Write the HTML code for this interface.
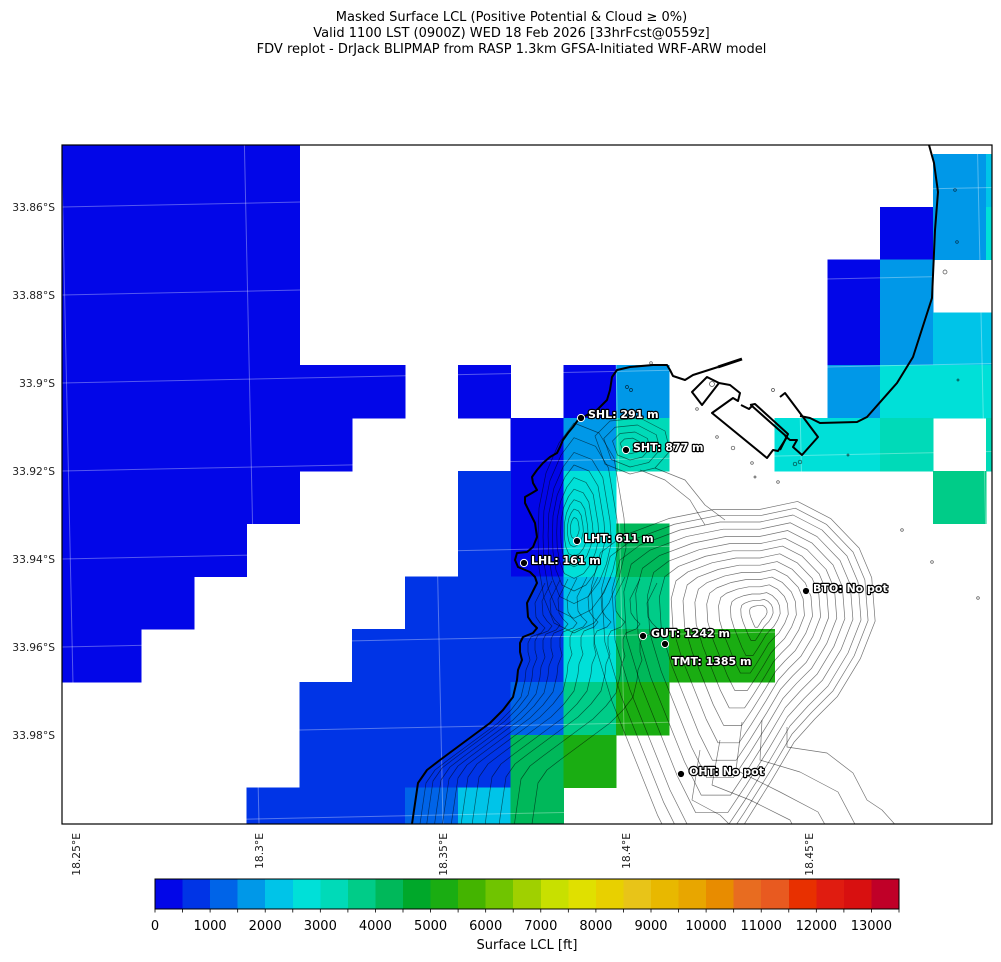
<!DOCTYPE html>
<html><head><meta charset="utf-8"><style>
html,body{margin:0;padding:0;background:#fff;}
svg{display:block;font-family:"DejaVu Sans","Liberation Sans",sans-serif;}
</style></head><body>
<svg width="1001" height="962" viewBox="0 0 1001 962" xmlns="http://www.w3.org/2000/svg">
<defs>
<clipPath id="pc"><rect x="62" y="145" width="930" height="679"/></clipPath>
<path id="tm" d="M-120,-67 L-80,-82 L-40,-90 L0,-90 L33,-97 L62,-82 L87,-56 L98,-30 L101,8 L88,41 L68,74 L48,94 L30,114 L10,148 L-15,188 L-35,218 L-70,218 L-90,178 L-110,128 L-130,78 L-145,28 L-148,-22 L-140,-52 Z"/>
<path id="lh" d="M0,-105 L25,-95 L40,-70 L45,-40 L50,-10 L52,20 L45,50 L35,75 L20,95 L0,105 L-20,95 L-30,70 L-35,40 L-36,10 L-35,-20 L-28,-55 L-15,-85 Z"/>
<path id="sh" d="M-35,-10 L-20,-25 L10,-28 L35,-15 L40,5 L25,22 L0,28 L-25,18 Z"/>
<path id="cl" d="M537,583 L530,597 L527,603 L528,617 L532,623 L537,628 L533,633 L523,637 L520,643 L520,652 L522,660 L518,670 L517,680 L513,697 L503,710 L490,723 L467,740 L440,760 L427,770 L418,783 L412,824 L410,840"/>
</defs>

<!-- Title -->
<g font-size="13" fill="#000" text-anchor="middle">
<text x="511.5" y="21">Masked Surface LCL (Positive Potential &amp; Cloud ≥ 0%)</text>
<text x="511.5" y="37">Valid 1100 LST (0900Z) WED 18 Feb 2026 [33hrFcst@0559z]</text>
<text x="511.5" y="53">FDV replot - DrJack BLIPMAP from RASP 1.3km GFSA-Initiated WRF-ARW model</text>
</g>

<g clip-path="url(#pc)">
<g shape-rendering="crispEdges">
<!-- B0 dark blue -->
<g fill="#0206e8">
<rect x="35.4" y="101.2" width="264.5" height="264.5"/>
<rect x="35.4" y="365.2" width="370" height="53.3"/>
<rect x="457.8" y="365.2" width="53.3" height="53.3"/>
<rect x="563.4" y="365.2" width="53.3" height="53.3"/>
<rect x="35.4" y="418" width="317.3" height="53.3"/>
<rect x="510.6" y="418" width="53.3" height="158.9"/>
<rect x="35.4" y="470.8" width="264.5" height="53.3"/>
<rect x="35.4" y="523.6" width="211.7" height="53.3"/>
<rect x="35.4" y="576.4" width="158.9" height="53.3"/>
<rect x="35.4" y="629.2" width="106.1" height="53.3"/>
<rect x="880.2" y="206.8" width="53.3" height="53.3"/>
<rect x="827.4" y="259.6" width="53.3" height="106.1"/>
</g>
<!-- B1 -->
<g fill="#0034e6">
<rect x="457.8" y="470.8" width="53.3" height="106.1"/>
<rect x="405" y="576.4" width="158.9" height="53.3"/>
<rect x="352.2" y="629.2" width="211.7" height="53.3"/>
<rect x="299.4" y="682" width="211.7" height="106.1"/>
<rect x="246.6" y="787.6" width="158.9" height="53.3"/>
</g>
<!-- B2 -->
<g fill="#0064e8">
<rect x="510.6" y="682" width="53.3" height="53.3"/>
<rect x="405" y="787.6" width="53.3" height="53.3"/>
</g>
<!-- B3 -->
<g fill="#0098e8">
<rect x="616.2" y="365.2" width="53.3" height="53.3"/>
<rect x="563.4" y="418" width="53.3" height="53.3"/>
<rect x="827.4" y="365.2" width="53.3" height="53.3"/>
<rect x="933" y="154" width="53.3" height="106.1"/>
<rect x="880.2" y="259.6" width="53.3" height="106.1"/>
</g>
<!-- B4 -->
<g fill="#00c4e8">
<rect x="563.4" y="576.4" width="53.3" height="53.3"/>
<rect x="457.8" y="787.6" width="53.3" height="53.3"/>
<rect x="985.8" y="154" width="53.3" height="53.3"/>
<rect x="933" y="312.4" width="106.1" height="53.3"/>
</g>
<!-- B5 -->
<g fill="#00e0d8">
<rect x="563.4" y="470.8" width="53.3" height="106.1"/>
<rect x="563.4" y="629.2" width="53.3" height="53.3"/>
<rect x="880.2" y="365.2" width="158.9" height="53.3"/>
<rect x="774.6" y="418" width="106.1" height="53.3"/>
<rect x="985.8" y="206.8" width="53.3" height="53.3"/>
</g>
<!-- B6 -->
<g fill="#00dab8">
<rect x="616.2" y="418" width="53.3" height="53.3"/>
<rect x="880.2" y="418" width="53.3" height="53.3"/>
<rect x="985.8" y="418" width="53.3" height="53.3"/>
</g>
<!-- B7 -->
<g fill="#00cc88">
<rect x="616.2" y="576.4" width="53.3" height="53.3"/>
<rect x="563.4" y="682" width="53.3" height="53.3"/>
<rect x="933" y="470.8" width="53.3" height="53.3"/>
</g>
<!-- B8 -->
<g fill="#00b85a">
<rect x="616.2" y="523.6" width="53.3" height="53.3"/>
<rect x="616.2" y="629.2" width="53.3" height="53.3"/>
<rect x="510.6" y="734.8" width="53.3" height="106.1"/>
</g>
<!-- B10 -->
<g fill="#1aad12">
<rect x="669" y="629.2" width="106.1" height="53.3"/>
<rect x="616.2" y="682" width="53.3" height="53.3"/>
<rect x="563.4" y="734.8" width="53.3" height="53.3"/>
</g>
</g>

<!-- gridlines -->
<g stroke="#ffffff" stroke-opacity="0.33" stroke-width="1" fill="none">
<line x1="61.4" y1="145" x2="76" y2="824"/>
<line x1="244.4" y1="145" x2="259" y2="824"/>
<line x1="428.4" y1="145" x2="443" y2="824"/>
<line x1="611.4" y1="145" x2="626" y2="824"/>
<line x1="794.4" y1="145" x2="809" y2="824"/>
<line x1="977.4" y1="145" x2="992" y2="824"/>
<line x1="62" y1="207" x2="992" y2="187.5"/>
<line x1="62" y1="295" x2="992" y2="275.5"/>
<line x1="62" y1="383" x2="992" y2="363.5"/>
<line x1="62" y1="471" x2="992" y2="451.5"/>
<line x1="62" y1="559" x2="992" y2="539.5"/>
<line x1="62" y1="647" x2="992" y2="627.5"/>
<line x1="62" y1="735" x2="992" y2="715.5"/>
<line x1="62" y1="823" x2="992" y2="803.5"/>
</g>

<!-- contours -->
<g fill="none" stroke="#000" stroke-opacity="0.55" stroke-linejoin="round">
<use href="#tm" transform="translate(760,612) scale(1.14)" stroke-width="0.61"/>
<use href="#tm" transform="translate(760,612) scale(1.07)" stroke-width="0.65"/>
<use href="#tm" transform="translate(760,612) scale(1)" stroke-width="0.7"/>
<use href="#tm" transform="translate(760,612) scale(0.92)" stroke-width="0.76"/>
<use href="#tm" transform="translate(760,612) scale(0.84)" stroke-width="0.83"/>
<use href="#tm" transform="translate(760,612) scale(0.76)" stroke-width="0.92"/>
<use href="#tm" transform="translate(760,612) scale(0.68)" stroke-width="1.03"/>
<use href="#tm" transform="translate(760,612) scale(0.6)" stroke-width="1.17"/>
<use href="#tm" transform="translate(760,612) scale(0.52)" stroke-width="1.35"/>
<use href="#tm" transform="translate(760,612) scale(0.44)" stroke-width="1.6"/>
<use href="#tm" transform="translate(760,612) scale(0.36)" stroke-width="1.94"/>
<use href="#tm" transform="translate(760,612) scale(0.28)" stroke-width="2.5"/>
<use href="#tm" transform="translate(760,612) scale(0.2)" stroke-width="3.5"/>
<use href="#tm" transform="translate(760,612) scale(0.13)" stroke-width="5.4"/>
<use href="#tm" transform="translate(760,612) scale(0.07)" stroke-width="10"/>
<use href="#lh" transform="translate(574,528) scale(1)" stroke-width="0.7"/>
<use href="#lh" transform="translate(574,528) scale(0.86)" stroke-width="0.81"/>
<use href="#lh" transform="translate(574,528) scale(0.72)" stroke-width="0.97"/>
<use href="#lh" transform="translate(574,528) scale(0.6)" stroke-width="1.17"/>
<use href="#lh" transform="translate(574,528) scale(0.48)" stroke-width="1.46"/>
<use href="#lh" transform="translate(574,528) scale(0.37)" stroke-width="1.9"/>
<use href="#lh" transform="translate(574,528) scale(0.27)" stroke-width="2.6"/>
<use href="#lh" transform="translate(574,528) scale(0.18)" stroke-width="3.9"/>
<use href="#lh" transform="translate(574,528) scale(0.1)" stroke-width="7"/>
<use href="#sh" transform="translate(630,446) scale(1)" stroke-width="0.7"/>
<use href="#sh" transform="translate(630,446) scale(0.75)" stroke-width="0.93"/>
<use href="#sh" transform="translate(630,446) scale(0.5)" stroke-width="1.4"/>
<use href="#sh" transform="translate(630,446) scale(0.28)" stroke-width="2.5"/>
<use href="#cl" transform="translate(8,0)" stroke-width="0.7"/>
<use href="#cl" transform="translate(15,-2)" stroke-width="0.7"/>
<use href="#cl" transform="translate(23,-3)" stroke-width="0.7"/>
<use href="#cl" transform="translate(31,-4)" stroke-width="0.7"/>
<use href="#cl" transform="translate(40,-5)" stroke-width="0.7"/>
<use href="#cl" transform="translate(50,-6)" stroke-width="0.7"/>
<use href="#cl" transform="translate(61,-6)" stroke-width="0.7"/>
<use href="#cl" transform="translate(74,-6)" stroke-width="0.7"/>
<use href="#cl" transform="translate(88,-6)" stroke-width="0.7"/>
<use href="#cl" transform="translate(103,-4)" stroke-width="0.7"/>
<use href="#cl" transform="translate(120,0)" stroke-width="0.7"/>
<path d="M787,727 L787,747 L827,753 L853,773 L867,800 L882,810 L900,830" stroke-width="0.7"/>
<path d="M762,720 L760,760 L800,772 L838,792 L858,830" stroke-width="0.7"/>
<path d="M742,722 L736,770 L780,792 L818,812 L828,830" stroke-width="0.7"/>
<path d="M720,740 L712,785 L750,800 L790,820 L795,830" stroke-width="0.7"/>
<path d="M700,750 L692,800 L720,815 L735,830" stroke-width="0.7"/>
<path d="M640,470 L665,480 L690,500 L705,525" stroke-width="0.7"/>
<path d="M655,468 L685,480 L705,505 L725,520" stroke-width="0.7"/>
</g>
<g fill="none" stroke="#000" stroke-opacity="0.7" stroke-width="0.7">
<circle cx="955" cy="190" r="1.3"/><circle cx="957" cy="242" r="1.3"/><circle cx="945" cy="272" r="2"/>
<circle cx="958" cy="380" r="1"/><circle cx="902" cy="530" r="1.3"/><circle cx="932" cy="562" r="1.3"/>
<circle cx="978" cy="598" r="1.3"/><circle cx="773" cy="390" r="1.5"/><circle cx="697" cy="409" r="1.3"/>
<circle cx="717" cy="437" r="1.3"/><circle cx="733" cy="448" r="1.8"/><circle cx="752" cy="463" r="1.3"/>
<circle cx="778" cy="482" r="1.3"/><circle cx="755" cy="477" r="1"/><circle cx="848" cy="455" r="1"/>
<circle cx="795" cy="464" r="1.8"/><circle cx="800" cy="462" r="1.8"/><circle cx="651" cy="363" r="1.3"/>
<circle cx="627" cy="387" r="1.5"/><circle cx="631" cy="390" r="1.5"/><circle cx="712" cy="384" r="2.5"/>
</g>

<!-- coastline -->
<g fill="none" stroke="#000" stroke-width="2" stroke-linejoin="round">
<path d="M412,824 L418,783 L427,770 L440,760 L467,740 L490,723 L503,710 L513,697 L517,680 L518,670 L522,660 L520,652 L520,643 L523,637 L533,633 L537,628 L532,623 L528,617 L527,603 L530,597 L537,583 L535,577 L530,572 L518,567 L515,560 L517,553 L527,552 L533,547 L537,537 L535,523 L530,513 L525,503 L525,497 L532,493 L537,490 L533,483 L532,477 L537,470 L543,463 L550,457 L557,453 L560,447 L563,440 L568,433 L573,427 L578,420 L587,415 L597,410 L607,400 L610,390 L612,377 L617,370 L630,367 L653,365 L667,365 L670,370 L673,376 L685,380 L693,375 L718,367"/>
<path d="M718,367 L742,359" stroke-width="3"/>
<path d="M692,392 L707,377 L719,383 L702,405 Z"/>
<path d="M719,383 L730,385 L740,393 L738,401 L733,398 L712,413 L767,458 L773,450 L778,451 L787,437 L752,406 L749,409 L741,405"/>
<path d="M750,405 L755,404 L788,434 L780,450"/>
<path d="M780,397 L785,393 L818,437 L802,455 L793,447 L797,440 L790,440 L785,436"/>
<path d="M800,416 L810,418 L820,423 L857,422 L867,417 L897,383 L913,357 L932,298 L935,230 L938,192 L934,163 L929,145"/>
</g>

<!-- stations -->
<g fill="#000" stroke="#fff" stroke-width="1">
<circle cx="581" cy="418" r="3.6"/>
<circle cx="626" cy="450" r="3.6"/>
<circle cx="577" cy="541" r="3.6"/>
<circle cx="524" cy="563" r="3.6"/>
<circle cx="643" cy="636" r="3.6"/>
<circle cx="665" cy="644" r="3.6"/>
<circle cx="806" cy="591" r="3.6"/>
<circle cx="681" cy="774" r="3.6"/>
</g>
<g font-size="11" font-weight="bold" fill="#fff" stroke="#000" stroke-width="2.4" paint-order="stroke" stroke-linejoin="round">
<text x="588" y="418">SHL: 291 m</text>
<text x="633" y="451">SHT: 877 m</text>
<text x="584" y="542">LHT: 611 m</text>
<text x="531" y="564">LHL: 161 m</text>
<text x="651" y="637">GUT: 1242 m</text>
<text x="672" y="665">TMT: 1385 m</text>
<text x="813" y="592">BTO: No pot</text>
<text x="689" y="775">OHT: No pot</text>
</g>
</g>

<!-- frame -->
<rect x="62" y="145" width="930" height="679" fill="none" stroke="#000" stroke-width="1.2"/>

<!-- lat labels -->
<g font-size="10.7" fill="#222" text-anchor="end">
<text x="55" y="211">33.86°S</text>
<text x="55" y="299">33.88°S</text>
<text x="55" y="387">33.9°S</text>
<text x="55" y="475">33.92°S</text>
<text x="55" y="563">33.94°S</text>
<text x="55" y="651">33.96°S</text>
<text x="55" y="739">33.98°S</text>
</g>
<!-- lon labels -->
<g font-size="10.7" fill="#222" text-anchor="end">
<text transform="translate(80,833) rotate(-90)">18.25°E</text>
<text transform="translate(263,833) rotate(-90)">18.3°E</text>
<text transform="translate(447,833) rotate(-90)">18.35°E</text>
<text transform="translate(630,833) rotate(-90)">18.4°E</text>
<text transform="translate(813,833) rotate(-90)">18.45°E</text>
</g>

<!-- colorbar -->
<g shape-rendering="crispEdges">
<rect x="155" y="879" width="27.8" height="30" fill="#0206e8"/>
<rect x="182.56" y="879" width="27.8" height="30" fill="#0034e6"/>
<rect x="210.11" y="879" width="27.8" height="30" fill="#0064e8"/>
<rect x="237.67" y="879" width="27.8" height="30" fill="#0098e8"/>
<rect x="265.22" y="879" width="27.8" height="30" fill="#00c4e8"/>
<rect x="292.78" y="879" width="27.8" height="30" fill="#00e0d8"/>
<rect x="320.33" y="879" width="27.8" height="30" fill="#00dab8"/>
<rect x="347.89" y="879" width="27.8" height="30" fill="#00cc88"/>
<rect x="375.44" y="879" width="27.8" height="30" fill="#00b85a"/>
<rect x="403" y="879" width="27.8" height="30" fill="#00a82a"/>
<rect x="430.56" y="879" width="27.8" height="30" fill="#1aad12"/>
<rect x="458.11" y="879" width="27.8" height="30" fill="#44b400"/>
<rect x="485.67" y="879" width="27.8" height="30" fill="#70c400"/>
<rect x="513.22" y="879" width="27.8" height="30" fill="#a0d000"/>
<rect x="540.78" y="879" width="27.8" height="30" fill="#c8e000"/>
<rect x="568.33" y="879" width="27.8" height="30" fill="#e0e000"/>
<rect x="595.89" y="879" width="27.8" height="30" fill="#e8d000"/>
<rect x="623.44" y="879" width="27.8" height="30" fill="#e8c418"/>
<rect x="651" y="879" width="27.8" height="30" fill="#e8b800"/>
<rect x="678.56" y="879" width="27.8" height="30" fill="#e8a600"/>
<rect x="706.11" y="879" width="27.8" height="30" fill="#e88c00"/>
<rect x="733.67" y="879" width="27.8" height="30" fill="#e86c20"/>
<rect x="761.22" y="879" width="27.8" height="30" fill="#e85a20"/>
<rect x="788.78" y="879" width="27.8" height="30" fill="#e83000"/>
<rect x="816.33" y="879" width="27.8" height="30" fill="#e01c10"/>
<rect x="843.89" y="879" width="27.8" height="30" fill="#d81010"/>
<rect x="871.44" y="879" width="27.56" height="30" fill="#c00028"/>
</g>
<rect x="155" y="879" width="744" height="30" fill="none" stroke="#000" stroke-width="1"/>
<g stroke="#000" stroke-width="0.8">
<path d="M155,909v3.5M182.56,909v3.5M210.11,909v3.5M237.67,909v3.5M265.22,909v3.5M292.78,909v3.5M320.33,909v3.5M347.89,909v3.5M375.44,909v3.5M403,909v3.5M430.56,909v3.5M458.11,909v3.5M485.67,909v3.5M513.22,909v3.5M540.78,909v3.5M568.33,909v3.5M595.89,909v3.5M623.44,909v3.5M651,909v3.5M678.56,909v3.5M706.11,909v3.5M733.67,909v3.5M761.22,909v3.5M788.78,909v3.5M816.33,909v3.5M843.89,909v3.5M871.44,909v3.5M899,909v3.5"/>
</g>
<g font-size="13" fill="#000" text-anchor="middle">
<text x="155" y="930">0</text>
<text x="210.1" y="930">1000</text>
<text x="265.2" y="930">2000</text>
<text x="320.3" y="930">3000</text>
<text x="375.4" y="930">4000</text>
<text x="430.6" y="930">5000</text>
<text x="485.7" y="930">6000</text>
<text x="540.8" y="930">7000</text>
<text x="595.9" y="930">8000</text>
<text x="651" y="930">9000</text>
<text x="706.1" y="930">10000</text>
<text x="761.2" y="930">11000</text>
<text x="816.3" y="930">12000</text>
<text x="871.4" y="930">13000</text>
<text x="527" y="949">Surface LCL [ft]</text>
</g>
</svg>
</body></html>
